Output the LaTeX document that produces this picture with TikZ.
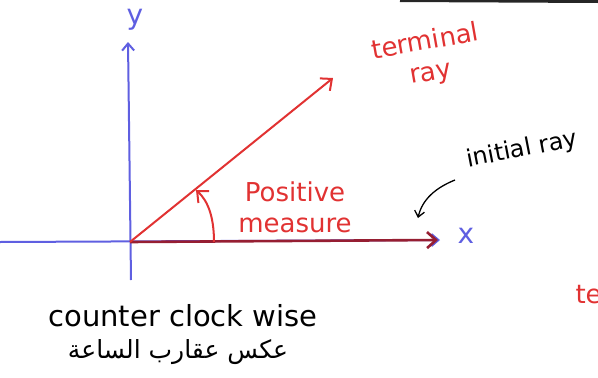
\documentclass[tikz,border=0pt]{standalone}
\usepackage{fontspec}
\setmainfont{DejaVu Sans}
\newfontfamily\arabicfont[Script=Arabic]{DejaVu Sans}
\TeXXeTstate=1
\usetikzlibrary{arrows.meta}
\definecolor{penblue}{RGB}{95,95,225}
\definecolor{penred}{RGB}{225,50,50}
\definecolor{penmaroon}{RGB}{150,30,50}
\tikzset{
  axis/.style={penblue, line width=2pt, -{Straight Barb[length=7pt,width=12pt]}},
  redray/.style={penred, line width=2pt, -{Straight Barb[length=9pt,width=16pt]}},
  redtxt/.style={penred, font=\fontsize{26}{31}\selectfont, align=center},
  blacktxt/.style={black, font=\fontsize{29}{32}\selectfont, align=center},
}
\begin{document}
\begin{tikzpicture}[x=1pt,y=-1pt]
\useasboundingbox (0,0) rectangle (598,378);
\clip (0,0) rectangle (598,378);
% top smudge
\draw[black!85, line width=3pt] (400,0.5) -- (598,1.5);
% axes
\coordinate (o) at (130,242);
\coordinate (xl) at (0,242);
\coordinate (xr) at (440,240);
\coordinate (yb) at (131,280);
\coordinate (yt) at (128,42);
\draw[axis] (xl) -- (xr);
\draw[axis] (yb) -- (yt);
\node[penblue, font=\fontsize{28}{30}\selectfont] (xlab) at (466,236) {x};
\node[penblue, font=\fontsize{28}{30}\selectfont] (ylab) at (135,20) {y};
% initial ray
\coordinate (ie) at (438,240);
\draw[penmaroon, line width=2.6pt, -{Straight Barb[length=9pt,width=16pt]}] (o) -- (ie);
% terminal ray
\coordinate (te) at (333,78);
\draw[redray] (o) -- (te);
\node[redtxt, rotate=10] (term) at (428,58) {terminal\\ray};
% angle arc
\coordinate (as) at (214,242);
\coordinate (ae) at (196,190);
\draw[redray] (as) .. controls (214,215) and (207,200) .. (ae);
\node[redtxt] (pos) at (295,207) {Positive\\measure};
% initial ray label
\node[blacktxt, font=\fontsize{24}{26}\selectfont, rotate=11] (init) at (522,150) {initial ray};
\coordinate (ia) at (418,218);
\draw[black, line width=1.3pt, -{Straight Barb[length=6pt,width=10pt]}] (455,180) .. controls (435,188) and (422,200) .. (ia);
% bottom text
\node[blacktxt] (ccw) at (183,316) {counter clock wise};
\node[black, font=\arabicfont\fontsize{25}{28}\selectfont] (ar) at (178,352) {\beginR عكس عقارب الساعة\endR};
% cut-off text at right
\node[redtxt, anchor=west] (cut) at (572,312) {terminal\\ray};
\end{tikzpicture}
\end{document}
